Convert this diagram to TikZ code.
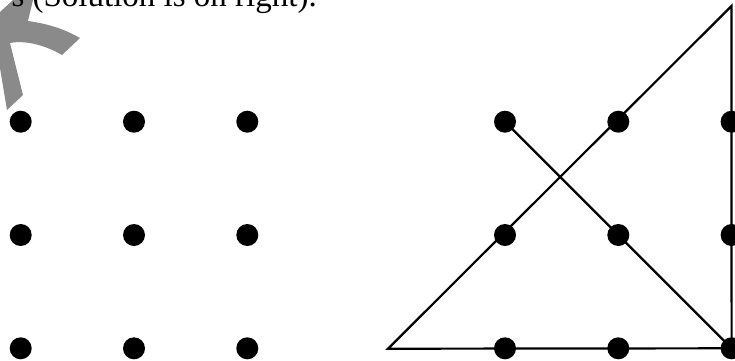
\documentclass[tikz,border=0pt]{standalone}
\usepackage{fontspec}
\setmainfont{Liberation Serif}
\begin{document}
\begin{tikzpicture}[
    x=1pt, y=-1pt,
    dot/.style={circle, fill=black, minimum size=22pt, inner sep=0pt},
    segment/.style={line width=2.2pt},
    wmark/.style={fill=black!46}
]
\useasboundingbox (0,0) rectangle (735,360);
\clip (0,0) rectangle (735,360);

% Watermark
\fill[wmark] (13,0) -- (33,0) -- (28,21)
    .. controls (50,24) and (66,30) .. (80,38) -- (62,55)
    .. controls (45,45) and (25,40) .. (10,43) -- (23,95) -- (7,110)
    -- (0,68) -- (0,12) -- cycle;

\node[font=\fontsize{33}{40}\selectfont, anchor=base east, inner sep=0pt] (caption)
    at (317,6.5) {s (Solution is on right).};

% Left grid
\node[dot] (l00) at (20.7,121.7) {};
\node[dot] (l01) at (134,121.7) {};
\node[dot] (l02) at (247.3,121.7) {};
\node[dot] (l10) at (20.7,235) {};
\node[dot] (l11) at (134,235) {};
\node[dot] (l12) at (247.3,235) {};
\node[dot] (l20) at (20.7,348.3) {};
\node[dot] (l21) at (134,348.3) {};
\node[dot] (l22) at (247.3,348.3) {};

% Right grid
\node[dot] (r00) at (505,121.7) {};
\node[dot] (r01) at (618.3,121.7) {};
\node[dot] (r02) at (731.6,121.7) {};
\node[dot] (r10) at (505,235) {};
\node[dot] (r11) at (618.3,235) {};
\node[dot] (r12) at (731.6,235) {};
\node[dot] (r20) at (505,348.3) {};
\node[dot] (r21) at (618.3,348.3) {};
\node[dot] (r22) at (731.6,348.3) {};

% Solution lines
\coordinate (tip)  at (731.5,6);
\coordinate (foot) at (388,348.7);
\draw[segment] (foot) -- (tip) -- (r22.center) -- cycle;
\draw[segment] (r00.center) -- (r22.center);
\end{tikzpicture}
\end{document}
